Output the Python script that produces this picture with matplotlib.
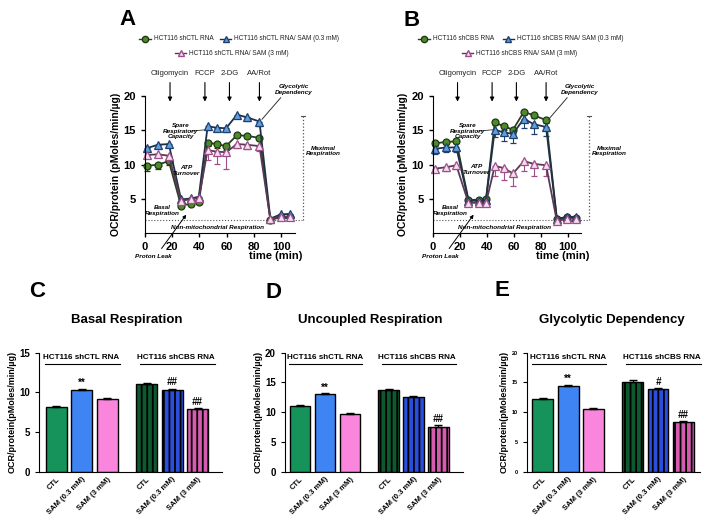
import numpy as np
import matplotlib.pyplot as plt
from matplotlib.lines import Line2D

plt.rcParams['font.family'] = ['Liberation Sans', 'DejaVu Sans']
plt.rcParams['hatch.linewidth'] = 1.3

# ---- time course data (Seahorse OCR) ----
time = [1.5, 9.5, 17.5, 26.5, 34, 39.5, 46, 52.5, 59.5, 67.5, 75, 84, 92, 99.5, 106.5]

a_ctl = [9.8, 10.0, 10.5, 4.0, 4.3, 4.5, 13.2, 13.0, 12.7, 14.3, 14.2, 13.9, 1.9, 2.3, 2.3]
a_ctl_err = [0.7, 0.6, 0.5, 0.2, 0.2, 0.2, 0.5, 0.6, 0.5, 0.3, 0.3, 0.3, 0.2, 0.2, 0.2]
a_sam03 = [12.4, 12.9, 13.0, 4.9, 5.05, 5.3, 15.6, 15.4, 15.3, 17.3, 16.9, 16.3, 2.1, 2.7, 2.8]
a_sam03_err = [0.4, 0.3, 0.3, 0.3, 0.3, 0.4, 0.5, 0.5, 0.5, 0.5, 0.5, 0.6, 0.2, 0.3, 0.3]
a_sam3 = [11.4, 11.5, 11.3, 4.7, 4.95, 5.1, 12.1, 11.9, 11.8, 13.0, 12.9, 12.7, 2.0, 2.4, 2.4]
a_sam3_err = [0.5, 0.4, 0.4, 0.3, 0.3, 0.3, 1.5, 1.8, 2.4, 0.6, 0.6, 0.7, 0.2, 0.3, 0.3]

b_ctl = [13.1, 13.3, 13.4, 4.85, 4.85, 4.95, 16.2, 15.6, 15.1, 17.7, 17.2, 16.5, 2.0, 2.3, 2.2]
b_ctl_err = [0.4, 0.3, 0.3, 0.2, 0.2, 0.2, 0.4, 0.5, 0.5, 0.4, 0.4, 0.4, 0.2, 0.2, 0.2]
b_sam03 = [12.3, 12.5, 12.5, 4.7, 4.7, 4.85, 15.1, 14.7, 14.5, 16.7, 15.9, 15.5, 2.0, 2.4, 2.3]
b_sam03_err = [0.7, 0.6, 0.6, 0.3, 0.3, 0.3, 1.0, 1.3, 1.3, 1.3, 1.5, 1.3, 0.2, 0.2, 0.2]
b_sam3 = [9.4, 9.6, 9.9, 4.4, 4.4, 4.4, 9.8, 9.5, 8.7, 10.5, 10.1, 9.9, 1.7, 2.1, 2.1]
b_sam3_err = [0.5, 0.5, 0.5, 0.3, 0.3, 0.3, 1.5, 1.8, 1.8, 1.5, 1.8, 1.5, 0.2, 0.2, 0.2]

injections = ['Oligomycin', 'FCCP', '2-DG', 'AA/Rot']
inject_time = [18.4, 44, 62, 84]

# ---- bar chart data ----
bar_labels = ['CTL', 'SAM (0.3 mM)', 'SAM (3 mM)', 'CTL', 'SAM (0.3 mM)', 'SAM (3 mM)']
basal = [8.1, 10.3, 9.2, 11.1, 10.3, 7.9]
basal_err = [0.2, 0.15, 0.1, 0.1, 0.15, 0.15]
uncoupled = [11.1, 13.0, 9.7, 13.7, 12.5, 7.5]
uncoupled_err = [0.1, 0.15, 0.1, 0.2, 0.2, 0.3]
glyco = [12.2, 14.4, 10.6, 15.1, 13.8, 8.3]
glyco_err = [0.1, 0.2, 0.1, 0.3, 0.3, 0.15]

basal_sig = [('**', 1), ('##', 4), ('##', 5)]
uncoupled_sig = [('**', 1), ('##', 5)]
glyco_sig = [('**', 1), ('#', 4), ('##', 5)]

bar_colors = ['#16935a', '#3f84f3', '#f986dc', '#0d5a31', '#2b4fdc', '#d65cb0']

fig = plt.figure(figsize=(7.14, 5.2), dpi=100)

series_style = [
    dict(marker='o', mfc='#4e8a2c', mec='#1f3a12', color='#2b3d22', ms=5),
    dict(marker='^', mfc='#5fa0d8', mec='#1f3f6f', color='#1f2f48', ms=5.5),
    dict(marker='^', mfc='#f6dcec', mec='#9c4f88', color='#5a3a52', ms=5.5),
]


def legend_item(x, y, st, text):
    fig.add_artist(Line2D([x - 0.008, x + 0.008], [y, y], transform=fig.transFigure,
                          color=st['color'], lw=1))
    fig.add_artist(Line2D([x], [y], transform=fig.transFigure, marker=st['marker'],
                          mfc=st['mfc'], mec=st['mec'], ms=4.5, lw=0))
    fig.text(x + 0.012, y, text, fontsize=4.7, va='center', color='#222222')


def time_panel(rect, series, errs, names, legend_pos, labels_y):
    ax = fig.add_axes(rect)
    for ys, es, st in zip(series, errs, series_style):
        ax.errorbar(time, ys, yerr=[es, np.zeros(len(es))], color=st['color'], lw=1.3,
                    marker=st['marker'], mfc=st['mfc'], mec=st['mec'], ms=st['ms'],
                    mew=0.9, ecolor=st['mec'], elinewidth=0.8, capsize=2.5, clip_on=False)
    ax.set_xlim(0, 110)
    ax.set_ylim(0, 20)
    ax.set_xticks([0, 20, 40, 60, 80, 100])
    ax.set_yticks([5, 10, 15, 20])
    ax.spines['top'].set_visible(False)
    ax.spines['right'].set_visible(False)
    ax.tick_params(labelsize=8, length=3, width=1)
    for t in ax.get_xticklabels() + ax.get_yticklabels():
        t.set_fontweight('bold')
    ax.set_ylabel('OCR/protein (pMoles/min/\u00b5g)', fontsize=7.5, fontweight='bold', labelpad=2)
    ax.text(96, -3.4, 'time (min)', fontsize=8, fontweight='bold', ha='center', va='center')

    # injection arrows
    for name, t in zip(injections, inject_time):
        ax.annotate('', xy=(t, 18.8), xytext=(t, 22.4), annotation_clip=False,
                    arrowprops=dict(arrowstyle='-|>', color='black', lw=0.8, mutation_scale=6))
        ax.text(t, 23.3, name, fontsize=5.5, ha='center', va='center', color='#222222')

    it = dict(fontsize=4.6, fontstyle='italic', fontweight='bold', ha='center', va='center')
    ax.plot([0, 115], [1.9, 1.9], ls=':', color='#555555', lw=0.8, clip_on=False)
    ax.text(53, 0.8, 'Non-mitochondrial Respiration', **it)
    ax.text(13, 3.3, 'Basal\nRespiration', **it)
    ax.text(labels_y[0], labels_y[1], 'ATP\nTurnover', **it)
    ax.text(26, 14.9, 'Spare\nRespiratory\nCapacity', **it)
    ax.plot([34, 45], [14.9, 15.1], color='#333333', lw=0.6)
    ax.text(6, -3.5, 'Proton Leak', **it)
    ax.annotate('', xy=(31.5, 3.0), xytext=(11, -2.6), annotation_clip=False,
                arrowprops=dict(arrowstyle='-|>', color='black', lw=0.7, mutation_scale=5))
    ax.text(109, 21.0, 'Glycolytic\nDependency', **it)
    ax.annotate('', xy=(84.5, 16.3), xytext=(101, 20.1), annotation_clip=False,
                arrowprops=dict(arrowstyle='-', color='#333333', lw=0.7))
    ax.plot([116, 116], [1.9, 17.1], ls=':', color='#555555', lw=0.9, clip_on=False)
    ax.plot([114.5, 117.5], [17.1, 17.1], color='#555555', lw=0.8, clip_on=False)
    ax.text(131, 12.0, 'Maximal\nRespiration', **it)

    (gx, bx, px) = legend_pos
    legend_item(gx, 0.925, series_style[0], names[0])
    legend_item(bx, 0.925, series_style[1], names[1])
    legend_item(px, 0.898, series_style[2], names[2])
    return ax


time_panel([0.203, 0.552, 0.21, 0.263], [a_ctl, a_sam03, a_sam3],
           [a_ctl_err, a_sam03_err, a_sam3_err],
           ['HCT116 shCTL RNA', 'HCT116 shCTL RNA/ SAM (0.3 mM)', 'HCT116 shCTL RNA/ SAM (3 mM)'],
           (0.203, 0.316, 0.253), (30.5, 9.1))
time_panel([0.606, 0.552, 0.208, 0.263], [b_ctl, b_sam03, b_sam3],
           [b_ctl_err, b_sam03_err, b_sam3_err],
           ['HCT116 shCBS RNA', 'HCT116 shCBS RNA/ SAM (0.3 mM)', 'HCT116 shCBS RNA/ SAM (3 mM)'],
           (0.594, 0.712, 0.655), (32, 9.3))

positions = [0, 1, 2, 3.55, 4.55, 5.55]


def bar_panel(rect, vals, errs, ymax, xlim, sig, title, title_x, head_y, line_y, ytick_size):
    ax = fig.add_axes(rect)
    for i, (p, v, e) in enumerate(zip(positions, vals, errs)):
        ax.bar(p, v, width=0.82, color=bar_colors[i], edgecolor='black', lw=1,
               hatch='|||' if i >= 3 else None, zorder=2)
        ax.errorbar(p, v, yerr=[[0], [e]], color='black', capsize=3, elinewidth=0.8, zorder=3)
    ax.set_xlim(*xlim)
    ax.set_ylim(0, ymax)
    ax.set_yticks(np.arange(0, ymax + 1, 5))
    ax.set_xticks(positions)
    ax.set_xticklabels(bar_labels, rotation=45, ha='right', rotation_mode='anchor',
                       fontsize=5.5, fontweight='bold')
    ax.tick_params(axis='y', labelsize=ytick_size, length=3)
    ax.tick_params(axis='x', length=0, pad=3)
    for t in ax.get_yticklabels():
        t.set_fontweight('bold')
    ax.spines['top'].set_visible(False)
    ax.spines['right'].set_visible(False)
    ax.set_ylabel('OCR/protein(pMoles/min/\u00b5g)', fontsize=6.5, fontweight='bold', labelpad=2)
    for mark, i in sig:
        ax.text(positions[i], vals[i] + errs[i] + 0.15, mark, fontsize=7, fontweight='bold',
                fontstyle='italic' if '#' in mark else 'normal', ha='center', va='bottom')
    ax.text(1, head_y, 'HCT116 shCTL RNA', fontsize=5.8, fontweight='bold', ha='center', va='center')
    ax.text(4.7, head_y, 'HCT116 shCBS RNA', fontsize=5.8, fontweight='bold', ha='center', va='center')
    ax.plot([-0.43, 2.5], [line_y, line_y], color='black', lw=0.8)
    ax.plot([3.3, 6.25], [line_y, line_y], color='black', lw=0.8, clip_on=False)
    fig.text(title_x, 0.385, title, fontsize=9.5, fontweight='bold', ha='center', va='center')
    return ax


bar_panel([0.0546, 0.093, 0.256, 0.229], basal, basal_err, 15, (-0.67, 6.5), basal_sig,
          'Basal Respiration', 0.178, 14.4, 13.55, 7)
bar_panel([0.399, 0.093, 0.249, 0.229], uncoupled, uncoupled_err, 20, (-0.6, 6.52), uncoupled_sig,
          'Uncoupled Respiration', 0.518, 19.2, 18.1, 7)
bar_panel([0.738, 0.093, 0.242, 0.229], glyco, glyco_err, 20, (-0.63, 6.2), glyco_sig,
          'Glycolytic Dependency', 0.857, 19.2, 18.1, 4)

for letter, x, y in [('A', 0.178, 0.962), ('B', 0.577, 0.96), ('C', 0.052, 0.44),
                     ('D', 0.383, 0.438), ('E', 0.703, 0.442)]:
    fig.text(x, y, letter, fontsize=16, fontweight='bold', ha='center', va='center')

fig.savefig('out.png', dpi=100)
